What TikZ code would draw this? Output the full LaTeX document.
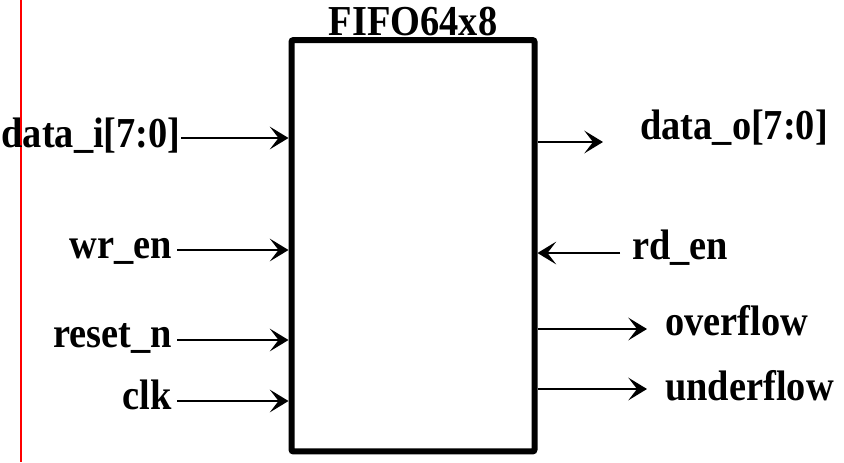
\documentclass[tikz,border=0pt]{standalone}
\usepackage{fontspec}
\setmainfont{Liberation Serif}[FakeStretch=0.9]
\usetikzlibrary{arrows.meta, positioning}

\begin{document}
\begin{tikzpicture}[
        x=0.75pt, y=-0.75pt,
        blk/.style={rectangle, draw, line width=4.5pt, rounded corners=1.5pt, minimum width=182.25pt, minimum height=308.6pt, inner sep=0pt},
        sig/.style={font=\fontsize{32}{36}\selectfont\bfseries, inner sep=0pt},
        arr/.style={-{Stealth[length=14pt, width=17pt, inset=6.5pt]}, line width=1.5pt}
    ]
        \useasboundingbox (0,0) rectangle (844,462);

        % Margin line
        \draw[red, line width=0.9pt] (21,0) -- (21,462);

        % FIFO block
        \node[blk] (fifo) at (413,245.75) {};
        \node[sig, anchor=base] (title) at (413,35) {FIFO64x8};

        % Input labels
        \node[sig, anchor=base east] (datai) at (181,147) {data\_i[7:0]};
        \node[sig, anchor=base east, outer xsep=3.75pt] (wren) at (177,258) {wr\_en};
        \node[sig, anchor=base east, outer xsep=3.75pt] (rstn) at (177,347) {reset\_n};
        \node[sig, anchor=base east, outer xsep=3.75pt] (clk) at (177,409) {clk};

        % Output labels
        \node[sig, anchor=base west] (datao) at (640,139) {data\_o[7:0]};
        \node[sig, anchor=base west, outer xsep=9pt] (rden) at (620,259) {rd\_en};
        \node[sig, anchor=base west] (ovf) at (665,335) {overflow};
        \node[sig, anchor=base west] (udf) at (665,400) {underflow};

        % Ports on the block
        \coordinate (pdi) at (fifo.west |- 0,138);
        \coordinate (pwr) at (fifo.west |- 0,250);
        \coordinate (prst) at (fifo.west |- 0,340);
        \coordinate (pclk) at (fifo.west |- 0,401);
        \coordinate (pdo) at (fifo.east |- 0,142);
        \coordinate (prd) at (fifo.east |- 0,253);
        \coordinate (povf) at (fifo.east |- 0,329);
        \coordinate (pudf) at (fifo.east |- 0,389);
        \coordinate (doend) at (603,142);

        % Inputs
        \draw[arr] (datai.east |- pdi) -- (pdi);
        \draw[arr] (wren.east |- pwr) -- (pwr);
        \draw[arr] (rstn.east |- prst) -- (prst);
        \draw[arr] (clk.east |- pclk) -- (pclk);
        \draw[arr] (rden.west |- prd) -- (prd);

        % Outputs
        \draw[arr] (pdo) -- (doend);
        \draw[arr, shorten >=13.5pt] (povf) -- (ovf.west |- povf);
        \draw[arr, shorten >=13.5pt] (pudf) -- (udf.west |- pudf);
    \end{tikzpicture}
\end{document}
